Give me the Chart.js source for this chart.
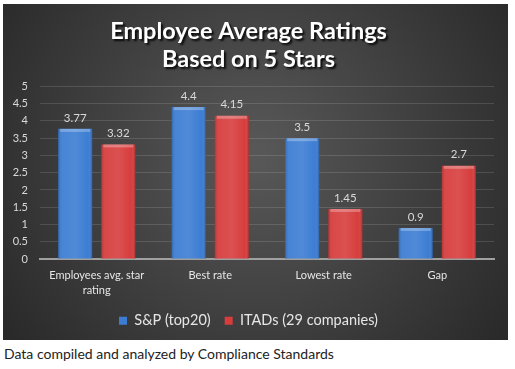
<!DOCTYPE html>
<html>
<head>
<meta charset="utf-8">
<script src="https://cdn.jsdelivr.net/npm/chart.js@4"></script>
<style>
  html, body { margin: 0; padding: 0; background: #fff; }
  #wrap { position: relative; width: 515px; height: 369px; }
  #panel { position: absolute; left: 3px; top: 4px; width: 505px; height: 336px; }
  #caption { position: absolute; left: 4px; top: 345px; font-family: Lato, sans-serif; font-size: 14px; color: #222; }
</style>
</head>
<body>
<div id="wrap">
  <div id="panel"><canvas id="ratingsChart" width="505" height="336"></canvas></div>
  <div id="caption">Data compiled and analyzed by Compliance Standards</div>
</div>
<script>
// Chart data
const categories = [['Employees avg. star', 'rating'], 'Best rate', 'Lowest rate', 'Gap'];
const spValues = [3.77, 4.4, 3.5, 0.9];
const itadValues = [3.32, 4.15, 1.45, 2.7];
const seriesNames = ['S&P (top20)', 'ITADs (29 companies)'];
const titleLines = ['Employee Average Ratings', 'Based on 5 Stars'];

const FONT = 'Lato, sans-serif';
const TITLE_SIZE = 23.5;
const TITLE_LH = 1.2;
const TITLE_PAD_TOP = 13;

// dark radial background behind everything
const panelBackground = {
    id: 'panelBackground',
    beforeDraw(chart) {
        const ctx = chart.ctx;
        const w = chart.width, h = chart.height;
        const g = ctx.createRadialGradient(w * 0.5, h * 0.45, 10, w * 0.5, h * 0.45, w * 0.6);
        g.addColorStop(0, '#575757');
        g.addColorStop(1, '#2a2a2a');
        ctx.save();
        ctx.fillStyle = g;
        ctx.fillRect(0, 0, w, h);
        ctx.restore();
    }
};

// the built-in title only reserves the space; the text is drawn here with a drop shadow
const shadowTitle = {
    id: 'shadowTitle',
    afterDraw(chart) {
        const block = chart.titleBlock;
        if (!block) return;
        const ctx = chart.ctx;
        const lh = TITLE_SIZE * TITLE_LH;
        ctx.save();
        ctx.font = 'bold ' + TITLE_SIZE + 'px ' + FONT;
        ctx.textAlign = 'center';
        ctx.textBaseline = 'middle';
        ctx.shadowColor = 'rgba(0,0,0,0.85)';
        ctx.shadowOffsetX = 2;
        ctx.shadowOffsetY = 2;
        ctx.shadowBlur = 2;
        ctx.fillStyle = '#ffffff';
        titleLines.forEach((line, i) => {
            ctx.fillText(line, (block.left + block.right) / 2, block.top + TITLE_PAD_TOP + lh * (i + 0.5));
        });
        ctx.restore();
    }
};

// shading on the bars + value labels above them
const barShading = {
    id: 'barShading',
    afterDatasetsDraw(chart) {
        const ctx = chart.ctx;
        ctx.save();
        chart.data.datasets.forEach((ds, di) => {
            chart.getDatasetMeta(di).data.forEach((bar, i) => {
                const left = bar.x - bar.width / 2;
                const top = bar.y;
                const h = bar.base - bar.y;
                const g = ctx.createLinearGradient(left, 0, left + bar.width, 0);
                g.addColorStop(0, 'rgba(0,0,0,0.18)');
                g.addColorStop(0.12, 'rgba(255,255,255,0.06)');
                g.addColorStop(0.5, 'rgba(255,255,255,0.10)');
                g.addColorStop(0.88, 'rgba(255,255,255,0.0)');
                g.addColorStop(1, 'rgba(0,0,0,0.22)');
                ctx.fillStyle = g;
                ctx.fillRect(left, top, bar.width, h);
                // top bevel
                ctx.fillStyle = 'rgba(255,255,255,0.28)';
                ctx.fillRect(left + 2, top, bar.width - 4, 3);

                ctx.fillStyle = '#d9d9d9';
                ctx.font = '11.5px ' + FONT;
                ctx.textAlign = 'center';
                ctx.textBaseline = 'middle';
                ctx.fillText(String(ds.data[i]), bar.x, top - 11);
            });
        });
        ctx.restore();
    }
};

const ctx = document.getElementById('ratingsChart').getContext('2d');
const ratingsChart = new Chart(ctx, {
    type: 'bar',
    data: {
        labels: categories,
        datasets: [{
            label: seriesNames[0],
            data: spValues,
            backgroundColor: '#3c7dd3',
            categoryPercentage: 0.76,
            barPercentage: 0.79
        }, {
            label: seriesNames[1],
            data: itadValues,
            backgroundColor: '#d73d3d',
            categoryPercentage: 0.76,
            barPercentage: 0.79
        }]
    },
    options: {
        responsive: false,
        animation: false,
        layout: { padding: { left: 0, right: 14, top: 0, bottom: 2 } },
        scales: {
            x: {
                afterFit(scale) { scale.height = 40.5; },
                grid: { display: false, drawTicks: false },
                border: { color: '#a0a0a0', width: 2 },
                ticks: {
                    autoSkip: false,
                    color: '#e6e6e6',
                    font: { family: FONT, size: 11, lineHeight: 1.45 },
                    padding: 8,
                    maxRotation: 0
                }
            },
            y: {
                min: 0,
                max: 5,
                afterFit(scale) { scale.width = 37; },
                grid: { color: 'rgba(255,255,255,0.13)', drawTicks: false },
                border: { display: false },
                ticks: {
                    stepSize: 0.5,
                    autoSkip: false,
                    color: '#d9d9d9',
                    font: { family: FONT, size: 11 },
                    padding: 12,
                    callback: value => String(value)
                }
            }
        },
        plugins: {
            title: {
                display: true,
                text: titleLines,
                color: 'rgba(0,0,0,0)',
                font: { family: FONT, size: TITLE_SIZE, weight: 'bold', lineHeight: TITLE_LH },
                padding: { top: TITLE_PAD_TOP, bottom: 13 }
            },
            legend: {
                position: 'bottom',
                maxHeight: 41.5,
                labels: {
                    color: '#e6e6e6',
                    font: { family: FONT, size: 14.5 },
                    boxWidth: 8,
                    boxHeight: 8,
                    padding: 14
                }
            },
            tooltip: { enabled: false }
        }
    },
    plugins: [panelBackground, barShading, shadowTitle]
});
</script>
</body>
</html>
